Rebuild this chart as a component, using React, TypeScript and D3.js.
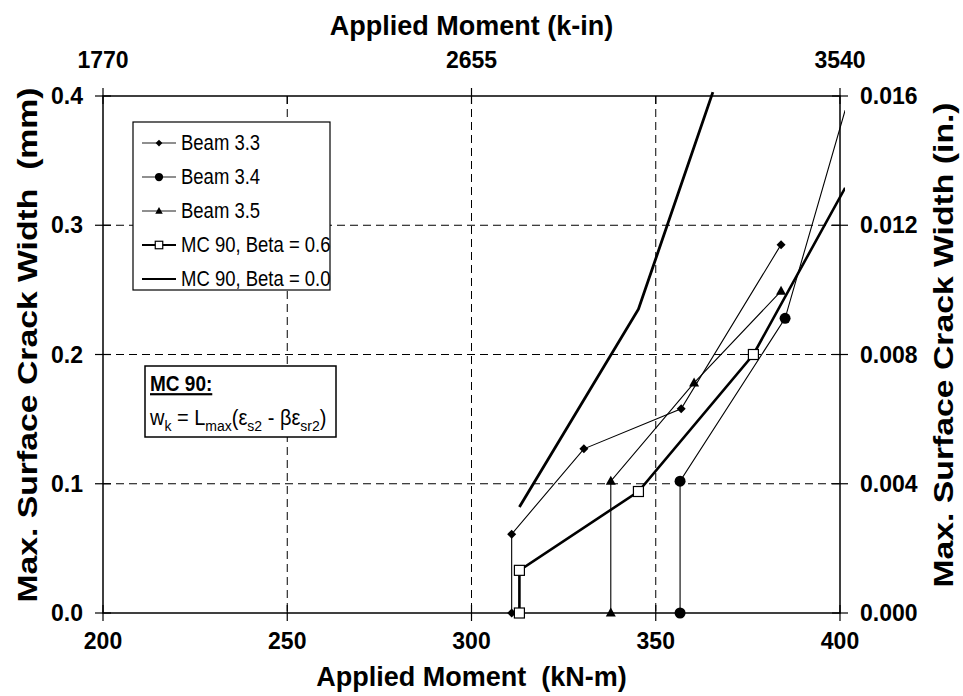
import React from "react";
import * as d3 from "d3";

const xTicks = [200, 250, 300, 350, 400];
const yTicks = [0.0, 0.1, 0.2, 0.3, 0.4];
const yLabels = ["0.0", "0.1", "0.2", "0.3", "0.4"];
const topTickLabels = ["1770", "", "2655", "", "3540"];
const rightTicks = [0, 0.004, 0.008, 0.012, 0.016];
const rightLabels = ["0.000", "0.004", "0.008", "0.012", "0.016"];

const beam33X = [310.9, 310.9, 330.5, 356.9, 384.0];
const beam33Y = [0.0, 0.061, 0.127, 0.158, 0.285];
const beam34X = [356.6, 356.6, 385.1, 401.4];
const beam34Y = [0.0, 0.102, 0.228, 0.389];
const beam35X = [337.8, 337.8, 360.4, 384.0];
const beam35Y = [0.0, 0.102, 0.178, 0.249];
const mc06X = [313.0, 313.0, 345.3, 376.5, 401.4];
const mc06Y = [0.0, 0.033, 0.094, 0.2, 0.329];
const mc00X = [313.0, 345.3, 365.5];
const mc00Y = [0.082, 0.235, 0.403];

const legendNames = ["Beam 3.3", "Beam 3.4", "Beam 3.5", "MC 90, Beta = 0.6", "MC 90, Beta = 0.0"];

const FONT = "Arial, 'Liberation Sans', sans-serif";

const L = 103, R = 840, T = 96, B = 613;

function Marker({ type, x, y, s = 1 }: { type: string; x: number; y: number; s?: number }) {
  if (type === "diamond") {
    const r = 4.5 * s;
    return <path d={`M${x},${y - r}L${x + r},${y}L${x},${y + r}L${x - r},${y}Z`} fill="#000" />;
  }
  if (type === "circle") {
    return <circle cx={x} cy={y} r={5.5 * s} fill="#000" />;
  }
  if (type === "triangle") {
    return <path d={`M${x},${y - 5.5 * s}L${x + 5 * s},${y + 3.5 * s}L${x - 5 * s},${y + 3.5 * s}Z`} fill="#000" />;
  }
  if (type === "square") {
    return <rect x={x - 5 * s} y={y - 5 * s} width={10 * s} height={10 * s} fill="#fff" stroke="#000" strokeWidth={1.2} />;
  }
  return null;
}

export default function App() {
  const x = d3.scaleLinear().domain([200, 400]).range([L, R]);
  const y = d3.scaleLinear().domain([0, 0.4]).range([B, T]);
  const yR = d3.scaleLinear().domain([0, 0.016]).range([B, T]);
  const line = d3.line<[number, number]>().x((d) => x(d[0])).y((d) => y(d[1]));

  const series = [
    { xs: beam33X, ys: beam33Y, marker: "diamond", w: 1.1 },
    { xs: beam34X, ys: beam34Y, marker: "circle", w: 1.1 },
    { xs: beam35X, ys: beam35Y, marker: "triangle", w: 1.1 },
    { xs: mc06X, ys: mc06Y, marker: "square", w: 2.6 },
    { xs: mc00X, ys: mc00Y, marker: "none", w: 2.8 },
  ];

  const tickFont = 23;
  const legX = 133, legY = 122, legRow = 34;
  const midY = 345;

  return (
    <svg width={963} height={696} style={{ position: "absolute", left: 0, top: 0, background: "#fff" }} fontFamily={FONT}>
      <defs>
        <clipPath id="plotclip">
          <rect x={L - 5} y={T - 5} width={R - L + 10} height={B - T + 10} />
        </clipPath>
      </defs>
      <rect x={0} y={0} width={963} height={696} fill="#fff" />
      {/* grid */}
      {xTicks.slice(1, -1).map((v) => (
        <line key={"gx" + v} x1={x(v)} x2={x(v)} y1={T} y2={B} stroke="#000" strokeWidth={1} strokeDasharray="8,5" />
      ))}
      {yTicks.slice(1, -1).map((v) => (
        <line key={"gy" + v} x1={L} x2={R} y1={y(v)} y2={y(v)} stroke="#000" strokeWidth={1} strokeDasharray="8,5" />
      ))}
      {/* frame */}
      <rect x={L} y={T} width={R - L} height={B - T} fill="none" stroke="#000" strokeWidth={1.5} />
      {/* ticks */}
      {yTicks.map((v) => (
        <line key={"ty" + v} x1={L - 8} x2={L + 8} y1={y(v)} y2={y(v)} stroke="#000" strokeWidth={1.2} />
      ))}
      {rightTicks.map((v) => (
        <line key={"tr" + v} x1={R - 8} x2={R + 8} y1={yR(v)} y2={yR(v)} stroke="#000" strokeWidth={1.2} />
      ))}
      {xTicks.map((v) => (
        <line key={"tx" + v} x1={x(v)} x2={x(v)} y1={B - 8} y2={B + 8} stroke="#000" strokeWidth={1.2} />
      ))}
      {xTicks.map((v, i) => (
        <line key={"tt" + v} x1={x(v)} x2={x(v)} y1={topTickLabels[i] ? T - 8 : T} y2={T + 8} stroke="#000" strokeWidth={1.2} />
      ))}
      {/* tick labels */}
      {yTicks.map((v, i) => (
        <text key={"ly" + v} x={L - 20} y={y(v)} dy="0.35em" textAnchor="end" fontSize={tickFont} fontWeight="bold">{yLabels[i]}</text>
      ))}
      {rightTicks.map((v, i) => (
        <text key={"lr" + v} x={R + 20} y={yR(v)} dy="0.35em" textAnchor="start" fontSize={tickFont} fontWeight="bold">{rightLabels[i]}</text>
      ))}
      {xTicks.map((v) => (
        <text key={"lx" + v} x={x(v)} y={B + 36} textAnchor="middle" fontSize={tickFont} fontWeight="bold">{String(v)}</text>
      ))}
      {xTicks.map((v, i) => topTickLabels[i] ? (
        <text key={"lt" + v} x={x(v)} y={T - 28} textAnchor="middle" fontSize={tickFont} fontWeight="bold">{topTickLabels[i]}</text>
      ) : null)}
      {/* titles */}
      <text x={(L + R) / 2} y={35} textAnchor="middle" fontSize={27} fontWeight="bold">Applied Moment (k-in)</text>
      <text x={(L + R) / 2} y={686} textAnchor="middle" fontSize={27} fontWeight="bold" style={{ whiteSpace: "pre" }}>Applied Moment  (kN-m)</text>
      <text transform={`translate(37,${midY}) rotate(-90) scale(1.25,1)`} textAnchor="middle" fontSize={27} fontWeight="bold" style={{ whiteSpace: "pre" }}>Max. Surface Crack Width  (mm)</text>
      <text transform={`translate(953,${midY}) rotate(-90) scale(1.25,1)`} textAnchor="middle" fontSize={27} fontWeight="bold" style={{ whiteSpace: "pre" }}>Max. Surface Crack Width (in.)</text>
      {/* series */}
      <g clipPath="url(#plotclip)">
        {series.map((s, i) => (
          <path key={"s" + i} d={line(s.xs.map((v, j) => [v, s.ys[j]] as [number, number])) || ""} fill="none" stroke="#000" strokeWidth={s.w} strokeLinejoin="miter" />
        ))}
      </g>
      {series.map((s, i) =>
        s.xs.map((v, j) =>
          v <= 400 && s.ys[j] <= 0.4 ? <Marker key={"m" + i + "-" + j} type={s.marker} x={x(v)} y={y(s.ys[j])} /> : null
        )
      )}
      {/* legend */}
      <rect x={legX} y={legY} width={197} height={168} fill="#fff" stroke="#000" strokeWidth={1.2} />
      {legendNames.map((n, i) => {
        const cy = legY + 21 + i * legRow;
        const s = series[i];
        return (
          <g key={"leg" + i}>
            <line x1={legX + 9} x2={legX + 43} y1={cy} y2={cy} stroke="#000" strokeWidth={s.w * 0.8} />
            <Marker type={s.marker} x={legX + 26} y={cy} s={0.75} />
            <text transform={`translate(${legX + 48},${cy}) scale(1,1.15)`} dy="0.35em" fontSize={18.5}>{n}</text>
          </g>
        );
      })}
      {/* formula box */}
      <rect x={145} y={366} width={191} height={71} fill="#fff" stroke="#000" strokeWidth={1.5} />
      <text transform="translate(150,391) scale(1,1.15)" fontSize={19} fontWeight="bold" textDecoration="underline">MC 90:</text>
      <text transform="translate(150,425) scale(1,1.1)" fontSize={20}>
        <tspan>w</tspan>
        <tspan fontSize={14} dy={5}>k</tspan>
        <tspan dy={-5}> = L</tspan>
        <tspan fontSize={14} dy={5}>max</tspan>
        <tspan dy={-5}>(ε</tspan>
        <tspan fontSize={14} dy={5}>s2</tspan>
        <tspan dy={-5}> - βε</tspan>
        <tspan fontSize={14} dy={5}>sr2</tspan>
        <tspan dy={-5}>)</tspan>
      </text>
    </svg>
  );
}
